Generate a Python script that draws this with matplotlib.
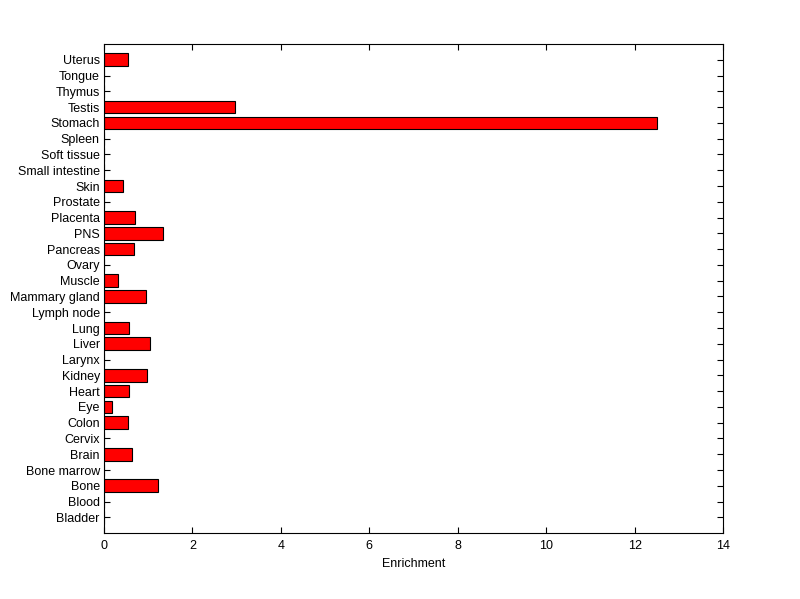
import matplotlib
matplotlib.use("Agg")
import matplotlib.pyplot as plt
import numpy as np

tissues = ["Bladder", "Blood", "Bone", "Bone marrow", "Brain", "Cervix", "Colon", "Eye",
           "Heart", "Kidney", "Larynx", "Liver", "Lung", "Lymph node", "Mammary gland",
           "Muscle", "Ovary", "Pancreas", "PNS", "Placenta", "Prostate", "Skin",
           "Small intestine", "Soft tissue", "Spleen", "Stomach", "Testis", "Thymus",
           "Tongue", "Uterus"]
enrichment = [0, 0, 1.23, 0, 0.63, 0, 0.55, 0.19,
              0.57, 0.98, 0, 1.03, 0.57, 0, 0.95,
              0.32, 0, 0.68, 1.34, 0.70, 0, 0.42,
              0, 0, 0, 12.50, 2.97, 0,
              0, 0.54]

plt.rcParams['font.family'] = ['Liberation Sans', 'DejaVu Sans']
plt.rcParams['font.size'] = 9

fig = plt.figure(figsize=(8, 5.99), dpi=100)
ax = fig.add_axes([0.13, 0.11, 0.774, 0.8165])

pos = np.arange(1, len(tissues) + 1)
ax.barh(pos, enrichment, height=0.8, color='red', edgecolor='black', linewidth=0.8)

ax.set_xlim(0, 14)
ax.set_ylim(0, len(tissues) + 1)
ax.set_xticks(np.arange(0, 15, 2))
ax.set_yticks(pos)
ax.set_yticklabels(tissues)
ax.set_xlabel('Enrichment', labelpad=4)
ax.set_axisbelow(True)

ax.tick_params(direction='in', length=4.5, width=0.8, top=True, right=True)
ax.tick_params(axis='x', pad=5)
ax.tick_params(axis='y', pad=3)
for s in ax.spines.values():
    s.set_linewidth(0.8)

fig.savefig('out.png', dpi=100)
